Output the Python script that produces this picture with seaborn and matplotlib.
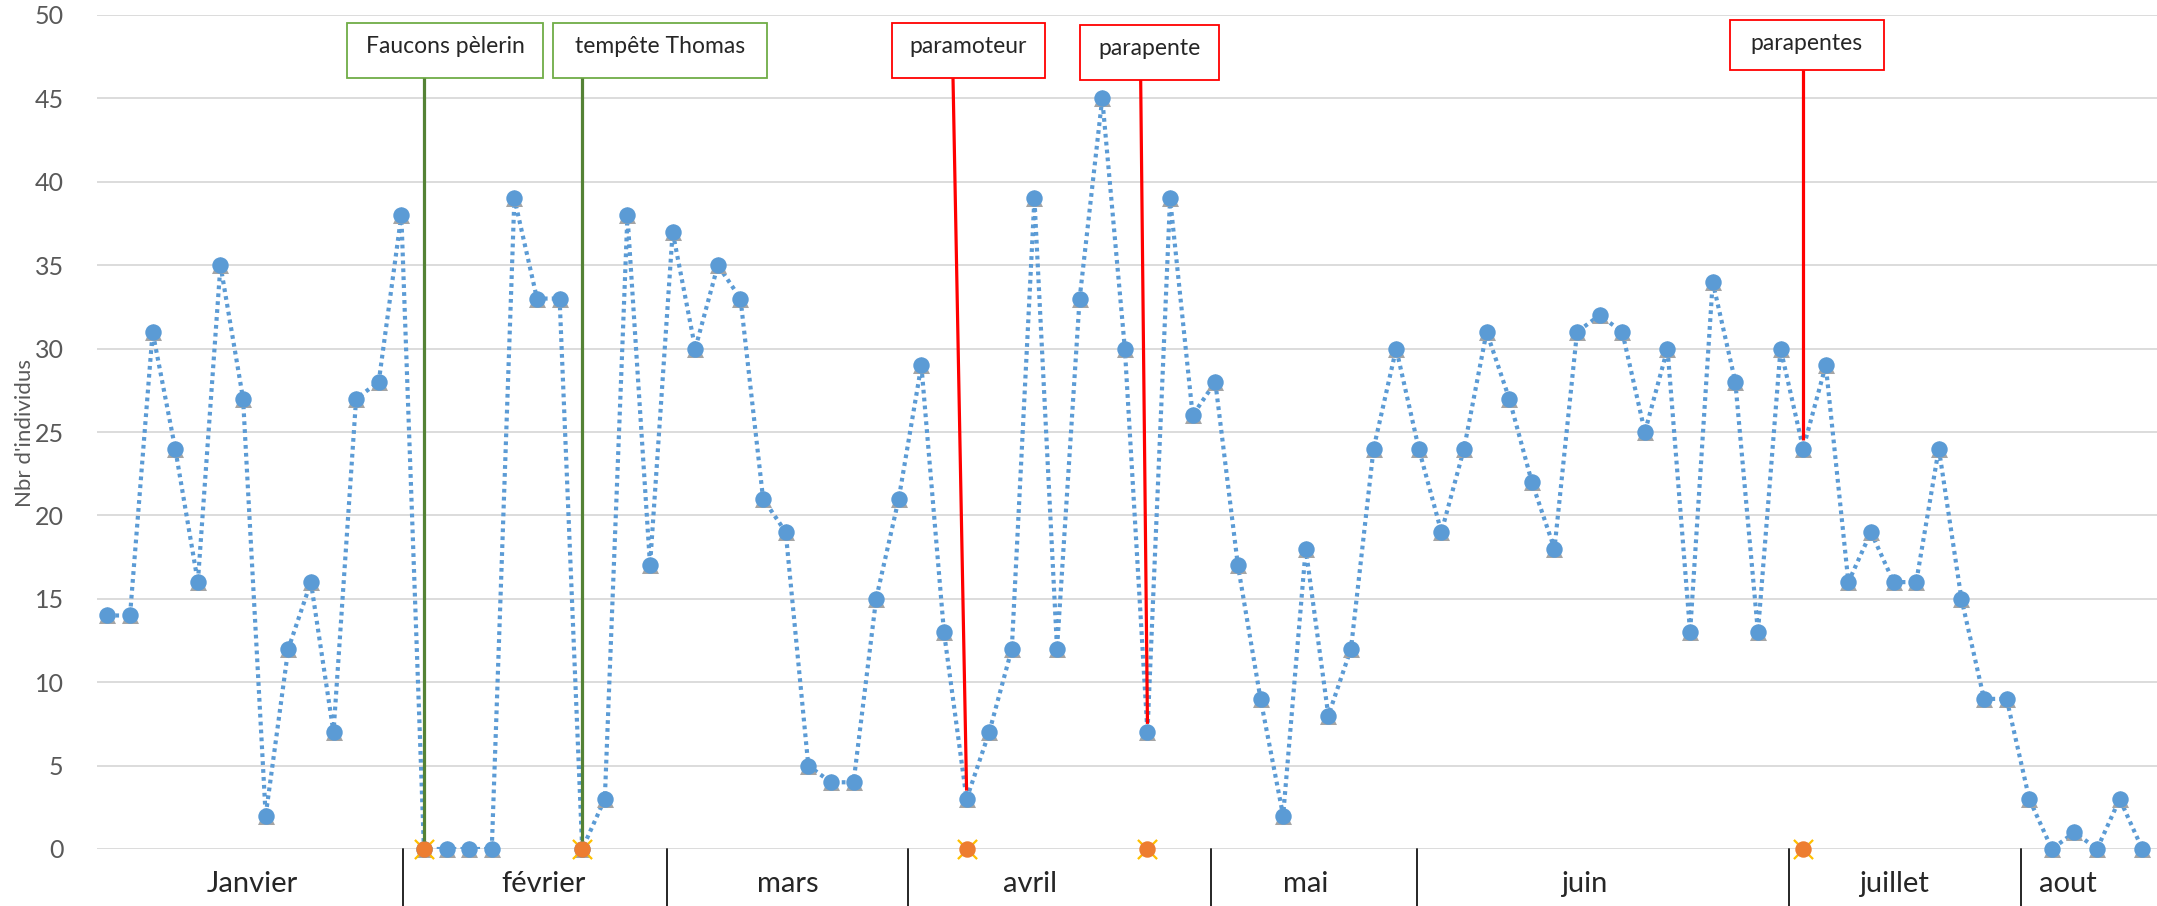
import pandas as pd
import seaborn as sns
import matplotlib.pyplot as plt
import matplotlib.transforms as mtransforms
from matplotlib.patches import Rectangle

# === Data ===
counts = [14, 14, 31, 24, 16, 35, 27, 2, 12, 16, 7, 27, 28, 38,
          0, 0, 0, 0, 39, 33, 33, 0, 3, 38, 17, 37, 30, 35, 33, 21,
          19, 5, 4, 4, 15, 21, 29, 13, 3, 7, 12, 39, 12, 33, 45, 30,
          7, 39, 26, 28, 17, 9, 2, 18, 8, 12, 24, 30, 24, 19, 24, 31,
          27, 22, 18, 31, 32, 31, 25, 30, 13, 34, 28, 13, 30, 24, 29,
          16, 19, 16, 16, 24, 15, 9, 9, 3, 0, 1, 0, 3, 0]

months = ["Janvier", "février", "mars", "avril", "mai", "juin", "juillet", "aout"]
month_label_x = [6.4, 19.3, 30.1, 40.8, 53.0, 65.3, 79.0, 86.7]
month_edges = [13.06, 24.76, 35.41, 48.83, 57.93, 74.38, 84.63]

event_names = ["Faucons pèlerin", "tempête Thomas", "paramoteur", "parapente", "parapentes"]
event_days = [14, 21, 38, 46, 75]
event_kind = ["nature", "nature", "humain", "humain", "humain"]

# callout boxes (x range in day units) and top of connector
box_left = [10.6, 19.7, 34.7, 43.0, 71.75]
box_right = [19.27, 29.17, 41.47, 49.15, 78.57]
box_bottom = [46.2, 46.2, 46.2, 46.1, 46.7]
box_top = [49.5, 49.5, 49.5, 49.4, 49.7]
line_top_x = [14.0, 21.0, 37.4, 45.7, 75.0]

df = pd.DataFrame({"jour": range(len(counts)), "individus": counts})
ev = pd.DataFrame({"jour": event_days, "individus": [0] * len(event_days)})

# === Style ===
sns.set_style("white")
plt.rcParams['font.family'] = ['Lato', 'DejaVu Sans']

blue = "#5B9BD5"
grey = "#A5A5A5"
orange = "#ED7D31"
gold = "#FFC000"
edge_col = {"nature": "#70AD47", "humain": "#FF0000"}
line_col = {"nature": "#548235", "humain": "#FF0000"}

W, H = 2157, 906
fig = plt.figure(figsize=(W / 100, H / 100), dpi=100)
ax = fig.add_axes([97 / W, 1 - 849 / H, 1 - 97 / W, (849 - 15) / H])

# === Series ===
sns.lineplot(data=df, x="jour", y="individus", color=blue, lw=3.0,
             dashes=False, ax=ax, zorder=2).lines[0].set_linestyle((0, (0.9, 1.0)))
sns.scatterplot(data=df, x="jour", y="individus", marker="^", color=grey,
                s=150, linewidth=0, ax=ax, zorder=3, clip_on=False)
sns.scatterplot(data=df, x="jour", y="individus", marker="o", color=blue,
                s=140, linewidth=0, ax=ax, zorder=4, clip_on=False)
sns.scatterplot(data=ev, x="jour", y="individus", marker="x", color=gold,
                s=190, linewidth=1.6, ax=ax, zorder=5, clip_on=False)
sns.scatterplot(data=ev, x="jour", y="individus", marker="o", color=orange,
                s=140, linewidth=0, ax=ax, zorder=6, clip_on=False)

# === Axes ===
ax.set_xlim(-0.46, 90.65)
ax.set_ylim(0, 50)
ax.set_yticks(range(0, 51, 5))
ax.set_xticks([])
ax.yaxis.grid(True, color="#D9D9D9", lw=1.3)
ax.set_axisbelow(True)
sns.despine(ax=ax, left=True, bottom=True)
ax.tick_params(axis="y", length=0, pad=24, labelsize=18, labelcolor="#595959")
ax.set_xlabel("")
ax.set_ylabel("")
fig.text(25 / W, 1 - 433 / H, "Nbr d'individus", rotation=90, ha="center",
         va="center", fontsize=16, color="#595959")

# === Month axis ===
trans = mtransforms.blended_transform_factory(ax.transData, ax.transAxes)
for xe in month_edges:
    ax.plot([xe, xe], [0, -0.07], transform=trans, color="#262626", lw=1.4, clip_on=False)
for name, xm in zip(months, month_label_x):
    ax.text(xm, -0.042, name, transform=trans, ha="center", va="center",
            fontsize=21, color="#262626")

# === Event callouts ===
for i, name in enumerate(event_names):
    kind = event_kind[i]
    day = event_days[i]
    rect = Rectangle((box_left[i], box_bottom[i]), box_right[i] - box_left[i],
                     box_top[i] - box_bottom[i], facecolor="white",
                     edgecolor=edge_col[kind], lw=1.3, zorder=7, clip_on=False)
    ax.add_patch(rect)
    ax.text((box_left[i] + box_right[i]) / 2, box_top[i] - 0.75, name,
            ha="center", va="top", fontsize=16.5, color="#262626", zorder=8)
    ax.plot([line_top_x[i], day], [box_bottom[i], counts[day] + 0.5],
            color=line_col[kind], lw=2.3, zorder=7, solid_capstyle="butt")

fig.savefig("out.png", dpi=100)
